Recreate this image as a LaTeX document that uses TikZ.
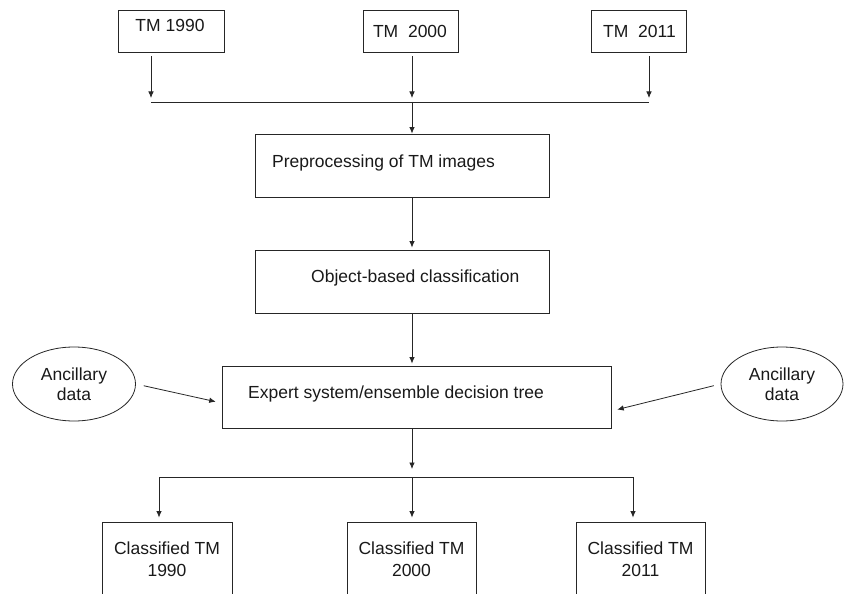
\documentclass[tikz,border=0pt]{standalone}
\usepackage{fontspec}
\setmainfont{Liberation Sans}
\usetikzlibrary{arrows.meta,shapes.geometric,calc}
\begin{document}
\begin{tikzpicture}[x=1pt,y=-1pt,
  box/.style={draw=black!85, line width=0.8pt, rectangle, inner sep=0pt},
  oval/.style={draw=black!85, line width=0.8pt, ellipse, inner sep=0pt, align=center,
    font=\fontsize{17.5}{20}\selectfont, text=black!90},
  txt/.style={font=\fontsize{17.5}{22}\selectfont, text=black!90, inner sep=0pt, align=center},
  arr/.style={draw=black!85, line width=0.8pt, -{Latex[length=6.5pt,width=5.5pt]}},
  ln/.style={draw=black!85, line width=0.8pt}]
\useasboundingbox (0,0) rectangle (844,594);
\clip (0,0) rectangle (844,594);

% top boxes
\node[box, minimum width=106pt, minimum height=42pt] (t1) at (171,31) {};
\node[box, minimum width=95pt, minimum height=42pt] (t2) at (410.5,31) {};
\node[box, minimum width=95pt, minimum height=42pt] (t3) at (638.5,31) {};
\node[txt, anchor=base] (t1txt) at (170,31.5) {TM 1990};
\node[txt, anchor=base] (t2txt) at (410,37.5) {TM\ \ 2000};
\node[txt, anchor=base] (t3txt) at (639.5,37.5) {TM\ \ 2011};

% process boxes
\node[box, minimum width=294pt, minimum height=63pt] (pre) at (402,165.5) {};
\node[txt, anchor=base west] (pretxt) at (272,167) {Preprocessing of TM images};
\node[box, minimum width=294pt, minimum height=63pt] (obj) at (402,281.5) {};
\node[txt, anchor=base west] (objtxt) at (311,282) {Object-based classification};
\node[box, minimum width=389pt, minimum height=62pt] (exp) at (416.5,397) {};
\node[txt, anchor=base west] (exptxt) at (248,398) {Expert system/ensemble decision tree};

% ancillary ellipses
\node[oval, minimum width=123pt, minimum height=74pt] (a1) at (74,384) {Ancillary\\data};
\node[oval, minimum width=122pt, minimum height=74pt] (a2) at (782,384) {Ancillary\\data};

% bottom boxes (cut by the lower edge)
\node[box, minimum width=130pt, minimum height=118pt] (c1) at (167,581) {};
\node[box, minimum width=129pt, minimum height=118pt] (c2) at (411.5,581) {};
\node[box, minimum width=129pt, minimum height=118pt] (c3) at (640.5,581) {};
\node[txt] (c1txt) at (167,559) {Classified TM\\1990};
\node[txt] (c2txt) at (411.5,559) {Classified TM\\2000};
\node[txt] (c3txt) at (640.5,559) {Classified TM\\2011};

% junctions
\coordinate (j1) at (151,102);
\coordinate (j2) at (412,102);
\coordinate (j3) at (649,102);
\coordinate (k1) at (159,477);
\coordinate (k2) at (412,477);
\coordinate (k3) at (633,477);

% connectors
\draw[arr, shorten <=4pt, shorten >=4pt] (t1.south -| j1) -- (j1);
\draw[arr, shorten <=4pt, shorten >=4pt] (t2.south -| j2) -- (j2);
\draw[arr, shorten <=4pt, shorten >=4pt] (t3.south -| j3) -- (j3);
\draw[ln] (j1) -- (j3);
\draw[arr] (j2) -- (pre.north -| j2);
\draw[arr, shorten >=2pt] (pre.south -| j2) -- (obj.north -| j2);
\draw[arr, shorten >=2pt] (obj.south -| j2) -- (exp.north -| j2);
\draw[arr, shorten >=8pt] (exp.south -| k2) -- (k2);
\draw[ln] (k1) -- (k3);
\draw[arr, shorten >=4pt] (k1) -- (c1.north -| k1);
\draw[arr, shorten >=4pt] (k2) -- (c2.north -| k2);
\draw[arr, shorten >=4pt] (k3) -- (c3.north -| k3);
\draw[arr, shorten <=8pt, shorten >=6pt] (a1.east) -- ($(exp.west)+(0,6)$);
\draw[arr, shorten <=7pt, shorten >=6pt] (a2.west) -- ($(exp.east)+(0,14)$);
\end{tikzpicture}
\end{document}
